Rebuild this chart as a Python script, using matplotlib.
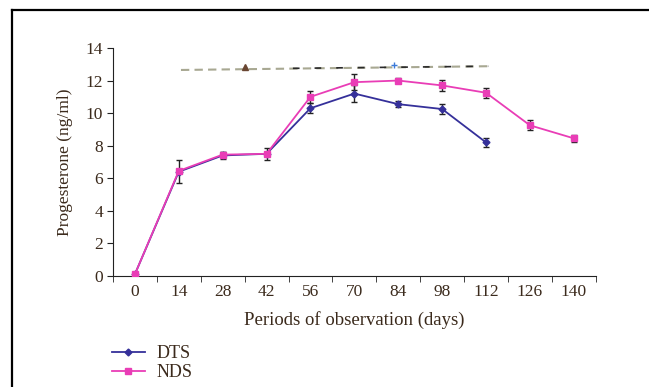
import matplotlib.pyplot as plt
from matplotlib.lines import Line2D
import numpy as np

plt.rcParams['font.family'] = ['Liberation Serif', 'DejaVu Serif']

# data
days = ['0', '14', '28', '42', '56', '70', '84', '98', '112', '126', '140']
dts = [0.1, 6.4, 7.4, 7.5, 10.3, 11.2, 10.55, 10.25, 8.2]
dts_err = [0.0, 0.7, 0.2, 0.35, 0.3, 0.5, 0.2, 0.3, 0.3]
nds = [0.1, 6.45, 7.45, 7.5, 11.0, 11.9, 12.0, 11.7, 11.25, 9.25, 8.45]
nds_err = [0.0, 0.0, 0.15, 0.0, 0.35, 0.5, 0.15, 0.35, 0.3, 0.3, 0.2]

# significance line above the curves
sig_x = [1.05, 8.05]
sig_y = [12.65, 12.88]
sig_tri = (2.5, 12.85)
sig_plus = (5.9, 12.95)

txt = '#3b2a1c'
dts_col = '#35309a'
nds_col = '#e93db6'

fig = plt.figure(figsize=(6.49, 3.87), dpi=100)
ax = fig.add_axes([0.174, 0.287, 0.744, 0.589])

x_dts = np.arange(len(dts))
x_nds = np.arange(len(nds))

ax.errorbar(x_dts, dts, yerr=dts_err, fmt='none', ecolor='#222222',
            elinewidth=1, capsize=2.5, capthick=1, zorder=2)
ax.errorbar(x_nds, nds, yerr=nds_err, fmt='none', ecolor='#222222',
            elinewidth=1, capsize=2.5, capthick=1, zorder=2)
ax.plot(x_dts, dts, color=dts_col, marker='D', markersize=3.5, lw=1.3,
        label='DTS', zorder=3)
ax.plot(x_nds, nds, color=nds_col, marker='s', markersize=5, lw=1.3,
        label='NDS', zorder=4)

ax.plot(sig_x, sig_y, color='#a8a892', lw=1.5, ls=(0, (4, 2.5)), zorder=1)
ax.plot([3.6, 8.05], [12.75, 12.88], color='#2a2a2a', lw=1.2,
        ls=(0, (4, 9)), zorder=1)
ax.plot(*sig_tri, marker='^', color='#6a4632', markersize=5, zorder=2)
ax.plot(*sig_plus, marker='+', color='#3b7ad8', markersize=5, mew=1, zorder=2)

ax.set_xlim(-0.5, len(days) - 0.5)
ax.set_ylim(0, 14)
ax.set_yticks(range(0, 15, 2))
ax.set_xticks(x_nds)
ax.set_xticklabels(days)
ax.set_xticks(np.arange(-0.5, len(days)), minor=True)
ax.tick_params(axis='x', which='major', length=0, pad=6, labelsize=12.5,
               labelcolor=txt)
ax.tick_params(axis='x', which='minor', length=4, direction='out',
               color='#222222')
ax.tick_params(axis='y', length=4, direction='out', labelsize=12.5,
               labelcolor=txt, color='#222222', pad=3)
for s in ['top', 'right']:
    ax.spines[s].set_visible(False)
for s in ['left', 'bottom']:
    ax.spines[s].set_color('#222222')
ax.set_xlabel('Periods of observation (days)', fontsize=13.5, color=txt,
              labelpad=8)
ax.set_ylabel('Progesterone (ng/ml)', fontsize=12.5, color=txt, labelpad=9)

fig.legend(loc='upper left', bbox_to_anchor=(0.1726, 0.108), frameon=False,
           fontsize=13, handlelength=1.8, labelspacing=0.1,
           handletextpad=0.65, labelcolor=txt, borderpad=0, borderaxespad=0)

# page frame
fig.add_artist(Line2D([12 / 649, 12 / 649], [0, 1 - 9.5 / 387],
                      transform=fig.transFigure, color='black', lw=1.6))
fig.add_artist(Line2D([12 / 649, 1], [1 - 9.5 / 387, 1 - 9.5 / 387],
                      transform=fig.transFigure, color='black', lw=1.6))

plt.savefig('out.png', dpi=100)
